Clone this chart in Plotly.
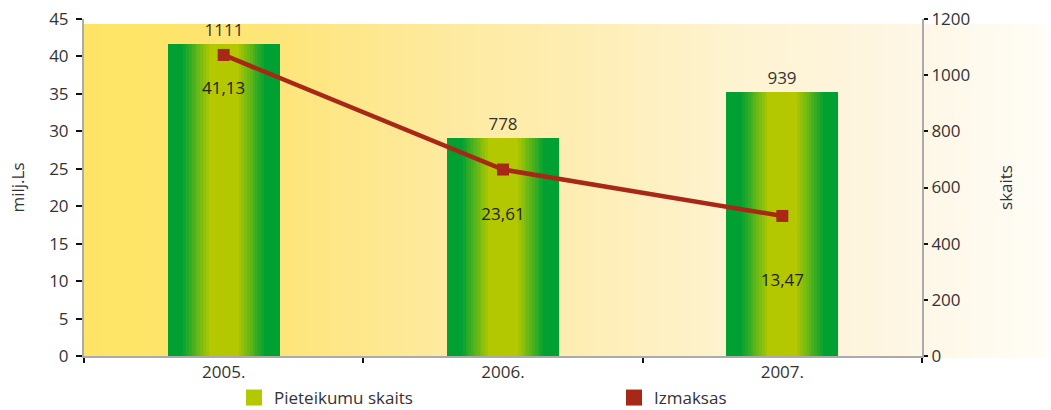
import plotly.graph_objects as go

# ---- data ----
years = ["2005.", "2006.", "2007."]
applications = [1111, 778, 939]            # Pieteikumu skaits (right axis, skaits)
payouts_plotted = [40.2, 24.9, 18.7]       # Izmaksas as drawn (left axis, milj.Ls)
payout_labels = ["41,13", "23,61", "13,47"]  # label texts printed on the chart
label_y = [35.6, 18.7, 9.9]                # where the payout labels sit (left axis units)

FONT = "Open Sans"
TXT = "#333333"
GREEN = (0, 160, 51)
YGREEN = (180, 200, 0)
RED = "#A82818"

def lerp(c1, c2, t):
    return tuple(round(a + (b - a) * t) for a, b in zip(c1, c2))

def rgb(c):
    return "rgb(%d,%d,%d)" % c

fig = go.Figure()

# bars with horizontal gradient: nested overlay bars (outer green -> inner yellow-green)
px_per_cat = 279.3
widths_px = [112, 86]
steps = 10
for k in range(1, steps + 1):
    widths_px.append(86 - k * 5.6)
colors = [GREEN, GREEN] + [lerp(GREEN, YGREEN, k / steps) for k in range(1, steps + 1)]
for i, (wpx, col) in enumerate(zip(widths_px, colors)):
    fig.add_trace(go.Bar(
        x=years, y=applications, width=wpx / px_per_cat,
        marker=dict(color=rgb(col), line=dict(width=0)),
        yaxis="y", showlegend=False,
        text=[str(v) for v in applications] if i == 0 else None,
        textposition="outside" if i == 0 else None,
        textfont=dict(family=FONT, size=17, color=TXT),
        cliponaxis=False,
    ))

# line (left axis)
fig.add_trace(go.Scatter(
    x=years, y=payouts_plotted, yaxis="y2", mode="lines+markers",
    line=dict(color=RED, width=4.5),
    marker=dict(symbol="square", size=12, color=RED),
    showlegend=False, name="Izmaksas",
))

# payout labels
fig.add_trace(go.Scatter(
    x=years, y=label_y, yaxis="y2", mode="text", text=payout_labels,
    textposition="middle center", showlegend=False,
    textfont=dict(family=FONT, size=17, color="#222222"),
))

# legend entries
fig.add_trace(go.Scatter(x=[None], y=[None], mode="markers", name="Pieteikumu skaits",
                         marker=dict(symbol="square", size=16, color=rgb(YGREEN))))
fig.add_trace(go.Scatter(x=[None], y=[None], mode="markers", name="Izmaksas",
                         marker=dict(symbol="square", size=16, color=RED)))

# background gradient strips (paper coords)
L, R, T, B = 84, 922, 19, 356
W, H = R - L, B - T
stops = [(84, (254, 228, 102)), (165, (254, 228, 104)), (280, (254, 229, 122)),
         (450, (254, 234, 160)), (560, (254, 237, 176)), (730, (254, 243, 208)),
         (840, (254, 244, 220)), (920, (254, 247, 230)), (1046, (255, 253, 246))]

def bg_color(px):
    for (x0, c0), (x1, c1) in zip(stops, stops[1:]):
        if x0 <= px <= x1:
            return lerp(c0, c1, (px - x0) / (x1 - x0))
    return stops[-1][1]

step = 6
x = 84
shapes = []
while x < 1046:
    x2 = min(x + step, 1046)
    shapes.append(dict(type="rect", xref="paper", yref="paper",
                       x0=(x - L) / W, x1=(x2 + 0.6 - L) / W,
                       y0=(B - 358) / H, y1=(B - 24) / H,
                       fillcolor=rgb(bg_color(x + step / 2)), line=dict(width=0),
                       layer="below"))
    x = x2

fig.update_layout(
    width=1051, height=410,
    margin=dict(l=L, r=1051 - R, t=T, b=410 - B, autoexpand=False),
    paper_bgcolor="white", plot_bgcolor="rgba(0,0,0,0)",
    barmode="overlay", bargap=0,
    font=dict(family=FONT, size=17, color=TXT),
    shapes=shapes,
    xaxis=dict(type="category", range=[-0.5, 2.5], showgrid=False, automargin=False,
               showline=True, linecolor="#ABABAB", linewidth=2,
               ticks="outside", tickson="boundaries", ticklen=5, tickwidth=2,
               tickcolor="#111111", tickfont=dict(size=17, color=TXT)),
    yaxis=dict(range=[0, 1200], side="right", dtick=200, showgrid=False, automargin=False,
               zeroline=False, showline=True, linecolor="#ABABAB", linewidth=2,
               ticks="outside", ticklen=4, tickwidth=2, tickcolor="#111111",
               tickfont=dict(size=17, color=TXT),
               title=dict(text="skaits", standoff=31, font=dict(size=17, color=TXT))),
    yaxis2=dict(range=[0, 45], side="left", overlaying="y", dtick=5, showgrid=False,
                automargin=False, ticklabelstandoff=4,
                zeroline=False, showline=True, linecolor="#ABABAB", linewidth=2,
                ticks="outside", ticklen=6, tickwidth=2, tickcolor="#111111",
                tickfont=dict(size=17, color=TXT),
                title=dict(text="milj.Ls", standoff=20, font=dict(size=17, color=TXT))),
    legend=dict(orientation="h", x=(234 - L) / W, xanchor="left",
                y=(B - 398) / H, yanchor="middle",
                entrywidth=335, entrywidthmode="pixels",
                font=dict(size=17, color=TXT), bgcolor="rgba(0,0,0,0)"),
    hovermode=False,
)

fig.write_html("out.html", config={"displayModeBar": False},
               post_script="document.body.style.margin='0';")
